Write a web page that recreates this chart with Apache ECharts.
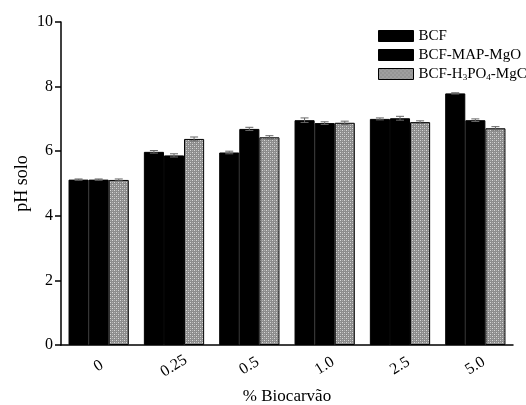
<!DOCTYPE html>
<html>
<head>
    <meta charset="utf-8">
    <title>pH solo</title>
    <script src="https://cdn.jsdelivr.net/npm/echarts@6/dist/echarts.min.js"></script>
    <style>
        body { margin: 0; background: #fff; }
        #main { width: 526px; height: 405px; }
    </style>
</head>
<body>
    <div id="main"></div>
    <script type="text/javascript">

        const CATEGORIES = ['0', '0.25', '0.5', '1.0', '2.5', '5.0'];
        const SERIES_NAMES = ['BCF', 'BCF-MAP-MgO', 'BCF-H3PO4-MgC'];
        const BCF = [5.12, 5.98, 5.96, 6.96, 7.00, 7.79];
        const BCF_MAP = [5.12, 5.87, 6.69, 6.87, 7.02, 6.96];
        const BCF_H3PO4 = [5.11, 6.38, 6.43, 6.88, 6.90, 6.71];
        const ERR_BCF = [0.02, 0.04, 0.04, 0.07, 0.03, 0.02];
        const ERR_MAP = [0.02, 0.05, 0.05, 0.04, 0.06, 0.04];
        const ERR_H3PO4 = [0.03, 0.06, 0.05, 0.05, 0.04, 0.05];

        const FONT = '"Liberation Serif", "DejaVu Serif", serif';

        // grey dotted texture for the third series
        function makePattern() {
            let c = document.createElement('canvas');
            c.width = 4;
            c.height = 4;
            let ctx = c.getContext('2d');
            ctx.fillStyle = '#8c8c8c';
            ctx.fillRect(0, 0, 4, 4);
            ctx.fillStyle = '#d8d8d8';
            ctx.fillRect(0, 0, 1, 1);
            ctx.fillRect(2, 2, 1, 1);
            ctx.fillStyle = '#b0b0b0';
            ctx.fillRect(2, 0, 1, 1);
            ctx.fillRect(0, 2, 1, 1);
            return c;
        }
        const pattern = {image: makePattern(), repeat: 'repeat'};

        const values = [BCF, BCF_MAP, BCF_H3PO4];
        const errors = [ERR_BCF, ERR_MAP, ERR_H3PO4];
        const fills = ['#000', '#000', pattern];

        let myChart = echarts.init(document.getElementById('main'));

        let series = [];
        for (let i = 0; i < 3; i++) {
            series.push({
                name: SERIES_NAMES[i],
                type: 'bar',
                data: values[i],
                barGap: '0%',
                barCategoryGap: '20%',
                itemStyle: {color: fills[i], borderColor: '#000', borderWidth: 1},
                emphasis: {disabled: true}
            });
        }
        for (let i = 0; i < 3; i++) {
            let errData = values[i].map((v, k) => [k, v, errors[i][k]]);
            series.push({
                type: 'custom',
                silent: true,
                z: 5,
                data: errData,
                renderItem: function (params, api) {
                    let k = api.value(0);
                    let v = api.value(1);
                    let e = api.value(2);
                    let band = api.size([1, 0])[0];
                    let bw = band * 0.8 / 3;
                    let x = api.coord([k, v])[0] + (i - 1) * bw;
                    let yHi = api.coord([k, v + e])[1];
                    let yLo = api.coord([k, v - e])[1];
                    let half = 4;
                    let style = {stroke: '#666', lineWidth: 1};
                    return {
                        type: 'group',
                        children: [
                            {type: 'line', shape: {x1: x, y1: yHi, x2: x, y2: yLo}, style: style},
                            {type: 'line', shape: {x1: x - half, y1: yHi, x2: x + half, y2: yHi}, style: style},
                            {type: 'line', shape: {x1: x - half, y1: yLo, x2: x + half, y2: yLo}, style: style}
                        ]
                    };
                }
            });
        }

        let option = {
            animation: false,
            textStyle: {fontFamily: FONT},
            grid: {left: 61, right: 13, top: 22, bottom: 60, outerBoundsMode: 'none', containLabel: false},
            legend: {
                data: SERIES_NAMES,
                orient: 'vertical',
                left: 373,
                top: 23,
                padding: 5,
                icon: 'rect',
                itemWidth: 35,
                itemHeight: 11,
                itemGap: 3,
                itemStyle: {borderColor: '#000', borderWidth: 1},
                textStyle: {
                    fontFamily: FONT, fontSize: 15, color: '#000', lineHeight: 16,
                    rich: {
                        s: {fontFamily: FONT, fontSize: 9, color: '#000', lineHeight: 16, verticalAlign: 'bottom', padding: [6, 0, 0, 0]}
                    }
                },
                formatter: function (name) {
                    if (name === 'BCF-H3PO4-MgC') {
                        return 'BCF-H{s|3}PO{s|4}-MgC';
                    }
                    return name;
                }
            },
            xAxis: {
                type: 'category',
                data: CATEGORIES,
                name: '% Biocarvão',
                nameLocation: 'middle',
                nameGap: 43,
                nameMoveOverlap: false,
                nameTextStyle: {fontFamily: FONT, fontSize: 17, color: '#000'},
                axisLine: {lineStyle: {color: '#000', width: 1.5}},
                axisTick: {alignWithLabel: true, length: 6, inside: false, lineStyle: {color: '#000', width: 1.5}},
                axisLabel: {
                    rotate: 32, align: 'center', verticalAlign: 'middle', margin: 21,
                    fontFamily: FONT, fontSize: 16, color: '#000'
                }
            },
            yAxis: {
                type: 'value',
                min: 0,
                max: 10,
                interval: 2,
                name: 'pH solo',
                nameLocation: 'middle',
                nameGap: 30,
                nameMoveOverlap: false,
                nameTextStyle: {fontFamily: FONT, fontSize: 18, color: '#000'},
                splitLine: {show: false},
                axisLine: {show: true, lineStyle: {color: '#000', width: 1.5}},
                axisTick: {show: true, length: 6, lineStyle: {color: '#000', width: 1.5}},
                axisLabel: {fontFamily: FONT, fontSize: 16, color: '#000', margin: 8}
            },
            series: series
        };
        myChart.setOption(option);

    </script>
</body>
</html>
